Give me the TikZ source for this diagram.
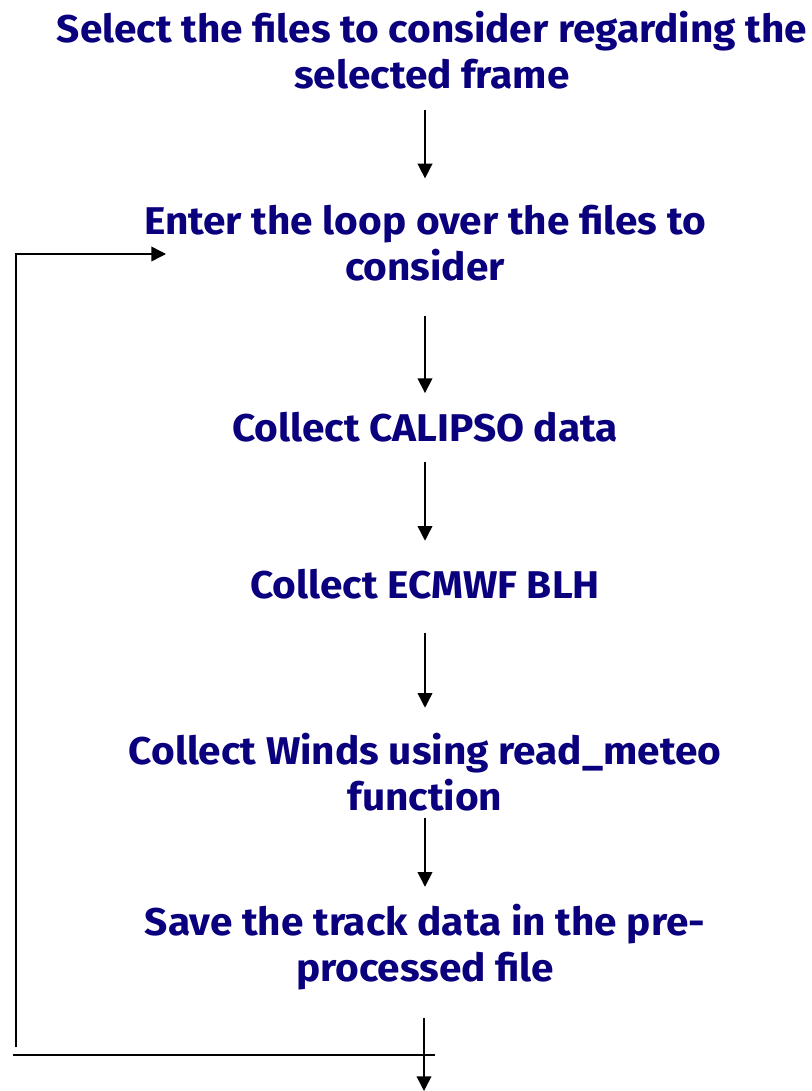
\documentclass[tikz,border=0pt]{standalone}
\usepackage{fontspec}
\setmainfont{Fira Sans}[BoldFont={* Bold}, BoldFeatures={FakeStretch=1.05}]
\usepackage{tikz}
\usetikzlibrary{arrows.meta,positioning,calc}
\definecolor{stepc}{RGB}{10,0,125}

\begin{document}
\begin{tikzpicture}[x=0.75pt, y=-0.75pt,
  txt/.style={font=\fontsize{29}{34}\selectfont\bfseries, text=stepc, align=center, inner sep=0pt},
  arr/.style={-{Triangle[length=11pt, width=11pt]}, line width=1.1pt}]
  \useasboundingbox (0,0) rectangle (812,1091);
  \node[txt] (sel) at (432,50) {Select the files to consider regarding the\\selected frame};
  \node[txt] (loop) at (425,243) {Enter the loop over the files to\\consider};
  \node[txt] (cal) at (425,427) {Collect CALIPSO data};
  \node[txt] (blh) at (425,584) {Collect ECMWF BLH};
  \node[txt] (wind) at (425,772) {Collect Winds using read\_meteo\\function};
  \node[txt] (save) at (425,947) {Save the track data in the pre-\\processed file};
  \draw[arr, shorten <=16pt, shorten >=20pt] (sel.south -| loop.north) -- (loop.north);
  \draw[arr, shorten <=26pt, shorten >=14pt] (loop) -- (cal);
  \draw[arr, shorten <=15pt, shorten >=21pt] (cal) -- (blh);
  \draw[arr, shorten <=25pt, shorten >=19pt] (blh) -- (wind);
  \draw[arr, shorten <=5pt, shorten >=13pt] (wind) -- (save);
  % loop back
  \coordinate (lb) at (16,1047);
  \coordinate (lt) at (16,254);
  \coordinate (le) at (166,254);
  \draw[arr] (lb) -- (lt) -- (le);
  \coordinate (hl) at (13,1055);
  \coordinate (hr) at (435,1055);
  \draw[line width=1.1pt] (hl) -- (hr);
  \coordinate (out) at (424,1091);
  \draw[arr, shorten <=21pt] (save.south -| out) -- (out);
\end{tikzpicture}
\end{document}
